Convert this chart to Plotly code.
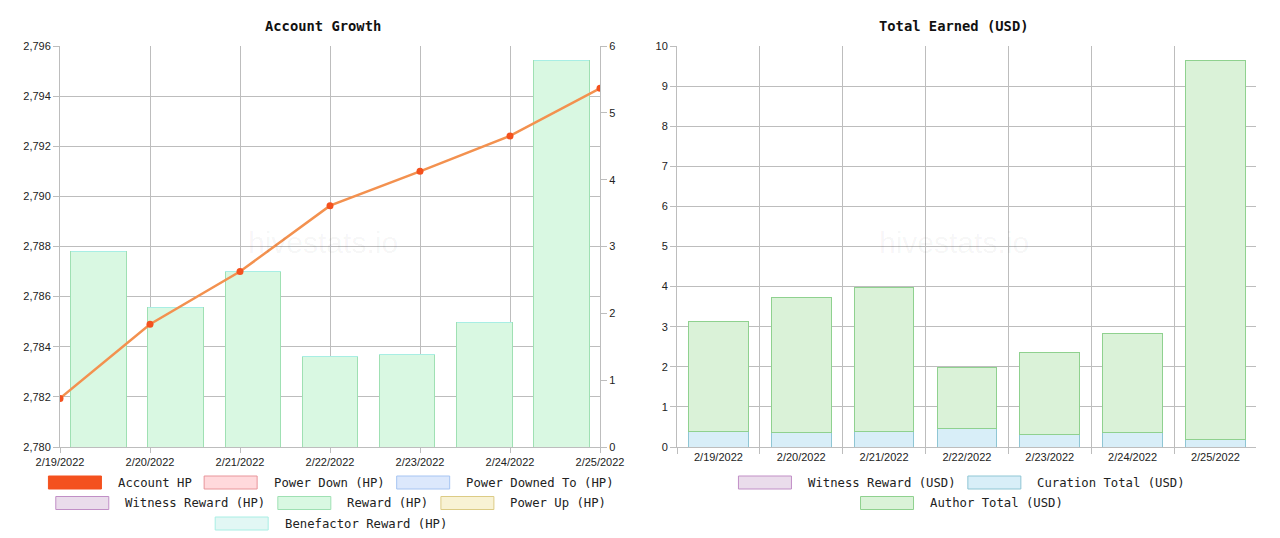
import plotly.graph_objects as go

# ---- data ----
dates = ["2/19/2022", "2/20/2022", "2/21/2022", "2/22/2022", "2/23/2022", "2/24/2022", "2/25/2022"]

# Account Growth (left axis = HP, right axis = daily HP changes)
account_hp = [2781.94, 2784.90, 2787.00, 2789.63, 2791.00, 2792.41, 2794.31]
power_down_hp = [0, 0, 0, 0, 0, 0, 0]
power_downed_to_hp = [0, 0, 0, 0, 0, 0, 0]
witness_reward_hp = [0, 0, 0, 0, 0, 0, 0]
reward_hp = [2.92, 2.09, 2.63, 1.35, 1.38, 1.87, 5.78]
power_up_hp = [0, 0, 0, 0, 0, 0, 0]
benefactor_reward_hp = [0, 0, 0, 0, 0, 0, 0]

# Total Earned (USD)
witness_reward_usd = [0, 0, 0, 0, 0, 0, 0]
curation_total_usd = [0.38, 0.37, 0.39, 0.47, 0.30, 0.36, 0.19]
author_total_usd = [2.74, 3.36, 3.60, 1.52, 2.06, 2.46, 9.46]

# ---- styles ----
W, H = 1280, 538
ML, MR, MT, MB = 60, 24, 46, 91
GRID = "#BDBDBD"
TICK_FONT = dict(family="Liberation Sans, Arial", size=11, color="#222")
MONO = "DejaVu Sans Mono, Liberation Mono, monospace"

STYLE = {
    "Account HP": ("#F4511E", "#F4511E"),
    "Power Down (HP)": ("#FFD9DC", "#E8959A"),
    "Power Downed To (HP)": ("#DCE8FC", "#A6C4F2"),
    "Witness Reward (HP)": ("#EADCEB", "#C18FC6"),
    "Reward (HP)": ("#D9F8E2", "#9FE0B3"),
    "Power Up (HP)": ("#F8F2D4", "#DCCB85"),
    "Benefactor Reward (HP)": ("#E2F7F4", "#A8EEE4"),
    "Witness Reward (USD)": ("#EADCEB", "#C18FC6"),
    "Curation Total (USD)": ("#D8EEF8", "#8FC6D4"),
    "Author Total (USD)": ("#DAF2D8", "#8FD18F"),
}


def px_x(p):
    return (p - ML) / (W - ML - MR)


def px_y(p):
    return 1 - (p - MT) / (H - MT - MB)


fig = go.Figure()

left_bars = [
    ("Power Down (HP)", power_down_hp),
    ("Power Downed To (HP)", power_downed_to_hp),
    ("Witness Reward (HP)", witness_reward_hp),
    ("Reward (HP)", reward_hp),
    ("Power Up (HP)", power_up_hp),
    ("Benefactor Reward (HP)", benefactor_reward_hp),
]
for name, vals in left_bars:
    fill, border = STYLE[name]
    fig.add_trace(go.Bar(x=dates, y=vals, name=name, xaxis="x", yaxis="y",
                         marker=dict(color=fill, line=dict(color=border, width=1))))

# line goes on the overlay axes so it sits above the bars
fig.add_trace(go.Scatter(x=dates, y=account_hp, name="Account HP", mode="lines+markers",
                         xaxis="x3", yaxis="y3",
                         line=dict(color="#F3914F", width=2.5),
                         marker=dict(color="#F4511E", size=7)))

right_bars = [
    ("Witness Reward (USD)", witness_reward_usd),
    ("Curation Total (USD)", curation_total_usd),
    ("Author Total (USD)", author_total_usd),
]
for name, vals in right_bars:
    fill, border = STYLE[name]
    fig.add_trace(go.Bar(x=dates, y=vals, name=name, xaxis="x2", yaxis="y2",
                         marker=dict(color=fill, line=dict(color=border, width=1))))

axis_common = dict(gridcolor=GRID, linecolor=GRID, tickcolor=GRID, tickfont=TICK_FONT,
                   zeroline=False, showline=True, linewidth=1, gridwidth=1, automargin=False)

fig.update_layout(
    width=W, height=H, autosize=False,
    margin=dict(l=ML, r=MR, t=MT, b=MB, autoexpand=False),
    paper_bgcolor="white", plot_bgcolor="white",
    barmode="stack", bargap=0.28,
    showlegend=False,
    xaxis=dict(domain=[0, px_x(600)], type="category", categoryorder="array", categoryarray=dates,
               range=[-0.5, 6.5], showticklabels=False, showgrid=False, showline=False,
               ticks="", anchor="y", zeroline=False, automargin=False),
    yaxis=dict(anchor="x", side="right", range=[0, 6], dtick=1, showgrid=False,
               ticks="outside", ticklen=6, **axis_common),
    xaxis3=dict(overlaying="x", anchor="y3", type="category", categoryorder="array",
                categoryarray=dates, range=[0, 6], showgrid=True, ticks="outside", ticklen=5,
                **axis_common),
    yaxis3=dict(overlaying="y", anchor="x3", side="left", range=[2780, 2796], dtick=2,
                tickformat=",", showgrid=True, ticks="outside", ticklen=6, **axis_common),
    xaxis2=dict(domain=[px_x(677), 1], anchor="y2", type="category", categoryorder="array",
                categoryarray=dates, range=[-0.5, 6.49], tickson="boundaries", showgrid=True,
                ticks="outside", ticklen=6, **axis_common),
    yaxis2=dict(anchor="x2", range=[0, 10], dtick=1, showgrid=True, ticks="outside", ticklen=6,
                **axis_common),
)

# titles and watermarks
titles = [("Account Growth", 323), ("Total Earned (USD)", 953.5)]
for text, cx in titles:
    fig.add_annotation(text="<b>%s</b>" % text, x=px_x(cx), y=px_y(26), xref="paper", yref="paper",
                       showarrow=False, xanchor="center", yanchor="middle",
                       font=dict(family=MONO, size=13.8, color="#111"))
    fig.add_annotation(text="hivestats.io", x=px_x(cx), y=px_y(243), xref="paper", yref="paper",
                       showarrow=False, xanchor="center", yanchor="middle",
                       font=dict(family="Liberation Sans, Arial", size=30, color="rgba(0,0,0,0.045)"))

# Chart.js-style legends (wide swatch boxes, centred rows under each chart)
CW = 7.37      # monospace advance at the legend font size
BOX_W, BOX_H, GAP = 53, 13, 14.5
legend_rows = [
    (330, [["Account HP", "Power Down (HP)", "Power Downed To (HP)"],
           ["Witness Reward (HP)", "Reward (HP)", "Power Up (HP)"],
           ["Benefactor Reward (HP)"]]),
    (960.6, [["Witness Reward (USD)", "Curation Total (USD)"],
             ["Author Total (USD)"]]),
]
for cx, rows in legend_rows:
    for r, row in enumerate(rows):
        yc = 482.5 + 20.5 * r
        widths = [BOX_W + GAP + len(n) * CW for n in row]
        total = sum(widths) + GAP * (len(row) - 1)
        x0 = cx - total / 2
        for name, w in zip(row, widths):
            fill, border = STYLE[name]
            fig.add_shape(type="rect", xref="paper", yref="paper",
                          x0=px_x(x0), x1=px_x(x0 + BOX_W),
                          y0=px_y(yc + BOX_H / 2), y1=px_y(yc - BOX_H / 2),
                          fillcolor=fill, line=dict(color=border, width=1))
            fig.add_annotation(text=name, x=px_x(x0 + BOX_W + GAP), y=px_y(yc),
                               xref="paper", yref="paper", showarrow=False,
                               xanchor="left", yanchor="middle",
                               font=dict(family=MONO, size=12.25, color="#222"))
            x0 += w + GAP

# drop the default page margin so the 1280x538 figure fills the window exactly
fig.write_html("out.html",
               config={"displayModeBar": False, "responsive": False},
               post_script="document.body.style.margin='0';document.body.style.overflow='hidden';")
